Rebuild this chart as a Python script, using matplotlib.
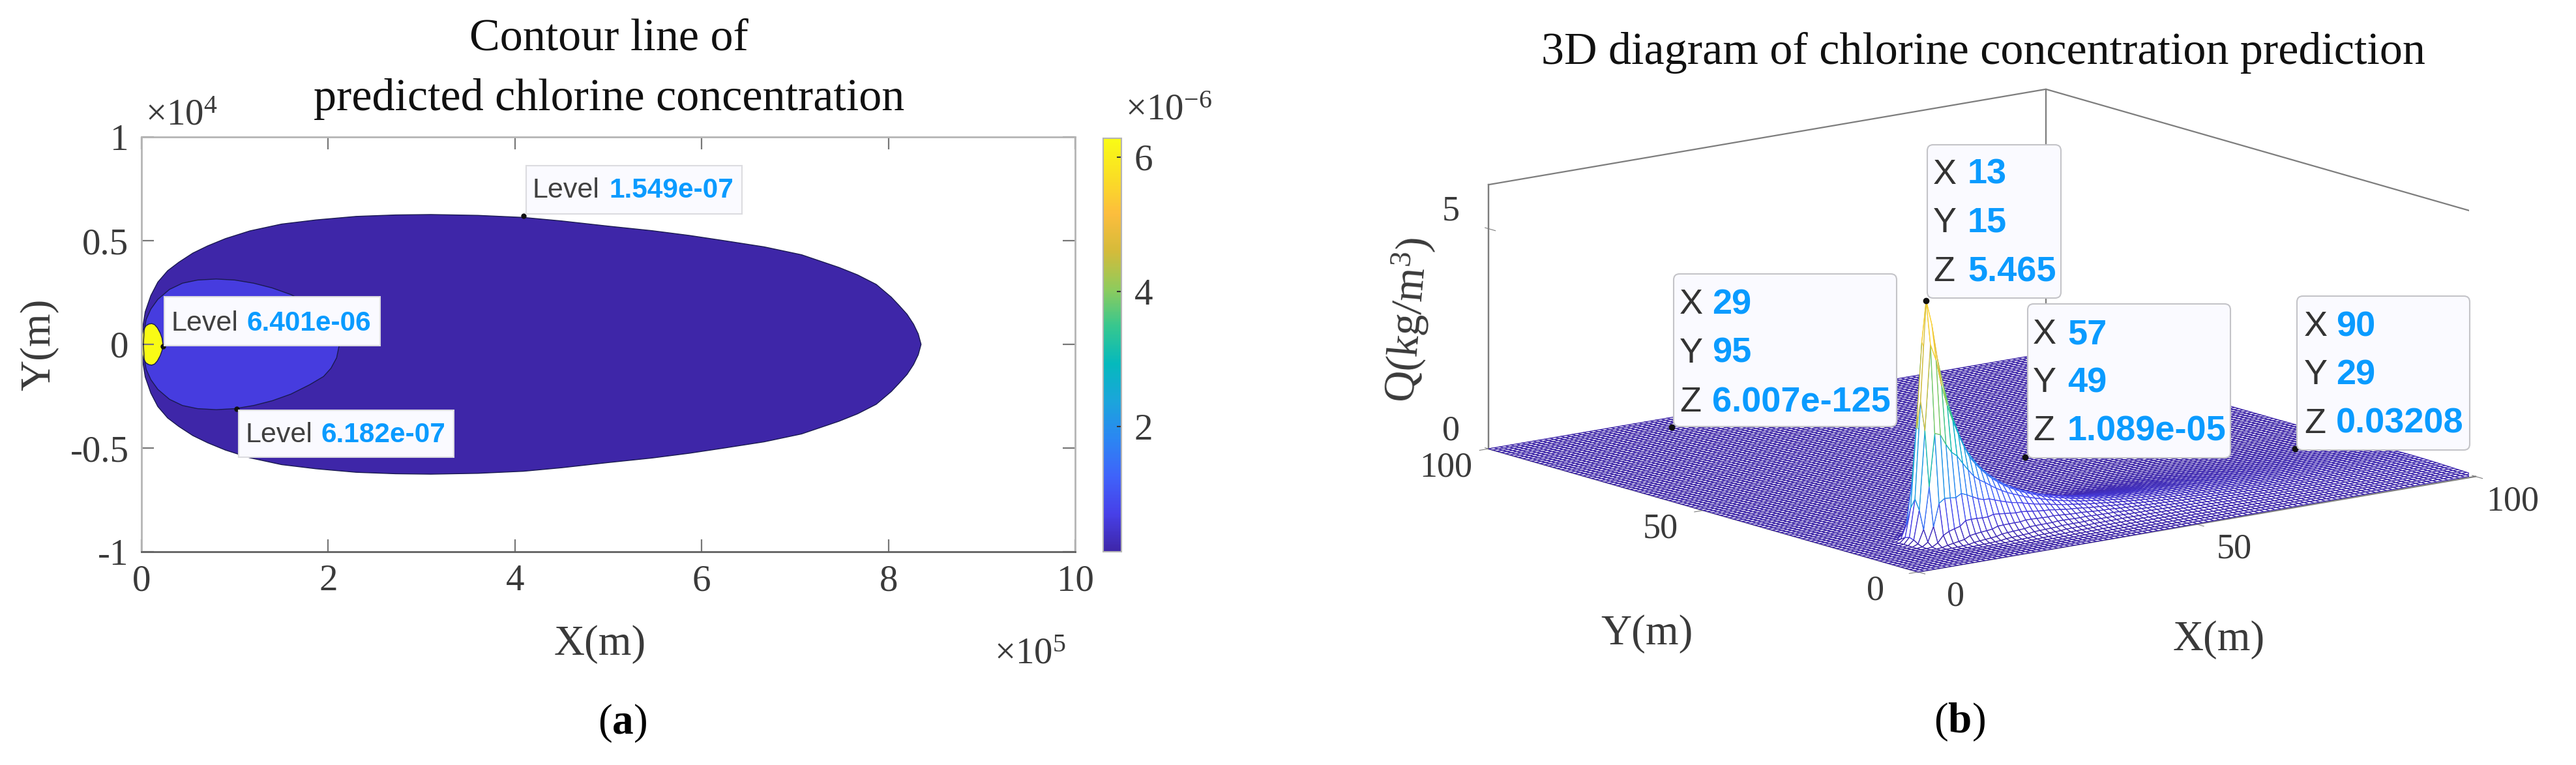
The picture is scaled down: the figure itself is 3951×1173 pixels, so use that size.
import numpy as np
import matplotlib
matplotlib.use('Agg')
import matplotlib.pyplot as plt
from matplotlib.colors import LinearSegmentedColormap, Normalize
from matplotlib.cm import ScalarMappable
from matplotlib.patches import FancyBboxPatch, Rectangle
from mpl_toolkits.mplot3d.art3d import Poly3DCollection
from mpl_toolkits.mplot3d import proj3d

# ---------- data ----------
# panel (a): contour outlines, upper half (x in 1e5 m, y in 1e4 m)
outer_x = [0.00, 0.005, 0.02, 0.04, 0.10, 0.175, 0.28, 0.40, 0.55, 0.71, 0.90, 1.16, 1.50, 1.87, 2.30, 2.72, 3.10, 3.60,
           4.09, 4.50, 5.00, 5.47, 5.87, 6.27, 6.67, 7.07, 7.47, 7.67, 7.87, 8.03, 8.11, 8.20, 8.27, 8.32, 8.35]
outer_y = [0.00, 0.05, 0.10, 0.157, 0.235, 0.30, 0.355, 0.396, 0.44, 0.475, 0.51, 0.547, 0.58, 0.60, 0.617, 0.624, 0.626, 0.622,
           0.612, 0.595, 0.57, 0.548, 0.525, 0.498, 0.470, 0.432, 0.371, 0.335, 0.289, 0.228, 0.19, 0.145, 0.097, 0.05, 0.00]
inner_x = [0.02, 0.03, 0.05, 0.10, 0.175, 0.30, 0.44, 0.60, 0.80, 1.00, 1.20, 1.40, 1.60, 1.80, 1.95, 2.03, 2.09, 2.12]
inner_y = [0.00, 0.07, 0.12, 0.17, 0.217, 0.265, 0.295, 0.31, 0.315, 0.31, 0.295, 0.272, 0.24, 0.195, 0.155, 0.115, 0.065, 0.00]
core_x = [0.00, 0.005, 0.02, 0.05, 0.08, 0.11, 0.14, 0.17, 0.20, 0.22, 0.23]
core_y = [0.00, 0.04, 0.07, 0.09, 0.098, 0.10, 0.095, 0.08, 0.055, 0.03, 0.00]
levels = [1.549e-07, 6.182e-07, 6.401e-06]
level_names = ['1.549e-07', '6.182e-07', '6.401e-06']
level_anchor_x = [4.09, 1.02, 0.23]
level_anchor_y = [0.62, -0.31, -0.01]
a_xticks = [0, 2, 4, 6, 8, 10]
a_yticks = [-1, -0.5, 0, 0.5, 1]
a_yticklabels = ['-1', '-0.5', '0', '0.5', '1']
cbar_ticks = [2e-6, 4e-6, 6e-6]
cbar_ticklabels = ['2', '4', '6']
cbar_low, cbar_high = 0.136e-6, 6.28e-6

# panel (b): height of the ridge at X = 0..100 and lateral spread there
ridge_z = [0, 0, 0, 0, 0, 0, 0, 0, 0, 0.01, 0.15, 1.0, 3.2, 5.465, 4.9, 4.1, 3.5, 3.0, 2.6, 2.25, 1.95,
           1.75, 1.57, 1.42, 1.29, 1.18, 1.08, 0.99, 0.92, 0.85, 0.79, 0.74, 0.69, 0.64, 0.60, 0.56, 0.53,
           0.50, 0.47, 0.44, 0.42, 0.40, 0.38, 0.36, 0.34, 0.325, 0.31, 0.295, 0.28, 0.27, 0.26, 0.25, 0.24,
           0.23, 0.22, 0.21, 0.205, 0.197, 0.19, 0.183, 0.176, 0.17, 0.164, 0.158, 0.153, 0.148, 0.143, 0.138,
           0.134, 0.13, 0.126, 0.122, 0.119, 0.115, 0.112, 0.109, 0.106, 0.103, 0.1, 0.098, 0.096, 0.094,
           0.092, 0.09, 0.088, 0.086, 0.084, 0.083, 0.081, 0.08, 0.0794, 0.078, 0.077, 0.075, 0.074, 0.073,
           0.072, 0.071, 0.07, 0.069, 0.068]
ridge_spread = [1.4, 1.4, 1.4, 1.4, 1.4, 1.4, 1.4, 1.4, 1.4, 1.4, 1.4, 1.4, 1.5, 1.6, 1.7, 1.8, 1.9, 2.1, 2.2, 2.3, 2.4,
                2.5, 2.7, 2.8, 2.9, 3.0, 3.1, 3.3, 3.4, 3.5, 3.6, 3.7, 3.9, 4.0, 4.1, 4.2, 4.3, 4.5, 4.6, 4.7, 4.8,
                4.9, 5.1, 5.2, 5.3, 5.4, 5.5, 5.7, 5.8, 5.9, 6.0, 6.1, 6.3, 6.4, 6.5, 6.6, 6.7, 6.9, 7.0, 7.1, 7.2,
                7.3, 7.5, 7.6, 7.7, 7.8, 7.9, 8.0, 8.1, 8.2, 8.3, 8.4, 8.5, 8.6, 8.7, 8.8, 8.9, 9.0, 9.1, 9.2, 9.3,
                9.4, 9.5, 9.6, 9.7, 9.8, 9.9, 10.0, 10.1, 10.3, 10.4, 10.5, 10.6, 10.7, 10.8, 10.9, 11.0, 11.1, 11.2, 11.3, 11.4]
ridge_y = 15
tip_x = [29, 13, 57, 90]
tip_y = [95, 15, 49, 29]
tip_z_text = ['6.007e-125', '5.465', '1.089e-05', '0.03208']
tip_z = [0.0, 5.465, 0.0, 0.03208]
b_ticks = [0, 50, 100]
z_ticks = [0, 5]

parula_stops = ['#3e26a8', '#4740e8', '#3f63fa', '#2b86f2', '#1ba5db', '#05b9bd', '#36c78f', '#8fcb5c',
                '#d4bb3a', '#fcbd3d', '#fadf24', '#f9fb15']

# ---------- page ----------
W, H = 3951, 1173
plt.rcParams['font.family'] = ['Liberation Serif', 'DejaVu Serif']
plt.rcParams['mathtext.fontset'] = 'custom'
plt.rcParams['mathtext.rm'] = 'Liberation Serif'
plt.rcParams['mathtext.it'] = 'Liberation Serif'
plt.rcParams['mathtext.bf'] = 'Liberation Serif:bold'
fig = plt.figure(figsize=(W / 100, H / 100), dpi=100, facecolor='white')
parula = LinearSegmentedColormap.from_list('parula', parula_stops, N=256)
INK = '#3a3a3a'
BLUE = '#0a9bff'
TICK_FS = 41
LABEL_FS = 47


def box(l, t, r, b):
    return [l / W, 1 - b / H, (r - l) / W, (b - t) / H]


# ---------- panel (a) ----------
ax = fig.add_axes(box(217, 210, 1649, 846))
norm = Normalize(cbar_low, cbar_high)
for lv, xs, ys in zip(levels, (outer_x, inner_x, core_x), (outer_y, inner_y, core_y)):
    xx = np.r_[xs, xs[::-1]]
    yy = np.r_[ys, -np.array(ys[::-1])]
    ax.fill(xx, yy, color=parula(norm(lv)), lw=0)
    ax.plot(xx, yy, color='#1a1a50', lw=1.0)
ax.set_xlim(0, 10)
ax.set_ylim(-1, 1)
ax.set_xticks(a_xticks)
ax.set_yticks(a_yticks, a_yticklabels)
ax.tick_params(direction='in', top=True, right=True, length=14, width=1.6, color='#777777',
               labelsize=TICK_FS, labelcolor=INK, pad=14)
for s in ('top', 'right', 'left'):
    ax.spines[s].set_color('#b5b5b5')
    ax.spines[s].set_linewidth(2)
ax.spines['bottom'].set_color('#606060')
ax.spines['bottom'].set_linewidth(2)
ax.plot(level_anchor_x, level_anchor_y, ls='none', marker='o', ms=5, color='#111111', zorder=6, clip_on=False)

cax = fig.add_axes(box(1692, 212, 1720, 846))
cb = fig.colorbar(ScalarMappable(norm=norm, cmap=parula), cax=cax)
cb.set_ticks(cbar_ticks, labels=cbar_ticklabels)
cb.ax.tick_params(direction='in', length=5, width=1.5, color='#333333', labelsize=TICK_FS, labelcolor=INK, pad=14)
cb.outline.set_edgecolor('#b5b5b5')
cb.outline.set_linewidth(1.5)

# ---------- panel (b) ----------
ax3 = fig.add_axes([0.5, 0.0, 0.4, 1.3], projection='3d', computed_zorder=False)
ax3.set_proj_type('ortho')
ax3.view_init(elev=12.8, azim=-127.7)
ax3.set_box_aspect((1080, 1077, 415), zoom=1.0)
ax3.set_xlim(0, 100, view_margin=0)
ax3.set_ylim(0, 100, view_margin=0)
ax3.set_zlim(0, 6, view_margin=0)
ax3.set_facecolor('none')

gx, gy = np.meshgrid(np.arange(101.0), np.arange(101.0), indexing='ij')
rz = np.array(ridge_z)[:, None]
rs = np.array(ridge_spread)[:, None]
gz = rz * np.exp(-(gy - ridge_y) ** 2 / (2 * rs ** 2))
verts = np.stack([
    np.stack([gx[:-1, :-1], gy[:-1, :-1], gz[:-1, :-1]], -1),
    np.stack([gx[1:, :-1], gy[1:, :-1], gz[1:, :-1]], -1),
    np.stack([gx[1:, 1:], gy[1:, 1:], gz[1:, 1:]], -1),
    np.stack([gx[:-1, 1:], gy[:-1, 1:], gz[:-1, 1:]], -1)], axis=2).reshape(-1, 4, 3)
mesh_colors = parula(np.clip(verts[:, :, 2].mean(axis=1) / 5.465, 0, 1))
mesh = Poly3DCollection(verts, facecolors='white', edgecolors=mesh_colors, linewidths=0.95, zorder=2)
ax3.add_collection3d(mesh)

WALL = '#7d7d7d'
ax3.plot([0, 0], [100, 100], [0, 6], color=WALL, lw=1.6, zorder=1)
ax3.plot([0, 100, 100], [100, 100, 0], [6, 6, 6], color=WALL, lw=1.6, zorder=1)
ax3.plot([100, 100], [100, 100], [0, 6], color=WALL, lw=1.6, zorder=1)
ax3.plot([100, 100], [0, 0], [0, 6], color=WALL, lw=1.6, zorder=1)
ax3.plot(tip_x, tip_y, tip_z, ls='none', marker='o', ms=6, color='#111111', zorder=5)

ax3.set_xticks(b_ticks)
ax3.set_yticks(b_ticks)
ax3.set_zticks(z_ticks)
ax3.grid(False)
for axis, pad in ((ax3.xaxis, 42), (ax3.yaxis, 36), (ax3.zaxis, 14)):
    axis.set_pane_color((1, 1, 1, 0))
    axis.pane.set_edgecolor((1, 1, 1, 0))
    axis.line.set_color(WALL)
    axis.line.set_linewidth(1.6)
    axis.set_tick_params(labelsize=TICK_FS - 2, labelcolor=INK, color=WALL, pad=pad)
ax3.zaxis._axinfo['juggled'] = (1, 2, 0)
ax3.zaxis.set_ticks_position('lower')
for axis, va in ((ax3.xaxis, 'baseline'), (ax3.yaxis, 'baseline'), (ax3.zaxis, 'bottom')):
    for lab in axis.get_ticklabels():
        lab.set_verticalalignment(va)


def project(x, y, z):
    px, py, _ = proj3d.proj_transform(x, y, z, ax3.get_proj())
    dx, dy = ax3.transData.transform((px, py))
    return dx, H - dy


# fit the box to the corners seen in the reference: front (2942,877), right (3797,731)
side, left, bottom = 1600.0, 2300.0, -300.0
for _ in range(5):
    ax3.set_position([left / W, bottom / H, side / W, side / H])
    ax3.apply_aspect()
    fx, fy = project(0, 0, 0)
    rx, ry = project(100, 0, 0)
    side *= (3797 - 2942) / (rx - fx)
    ax3.set_position([left / W, bottom / H, side / W, side / H])
    ax3.apply_aspect()
    fx, fy = project(0, 0, 0)
    left += 2942 - fx
    bottom -= 877 - fy
ax3.set_position([left / W, bottom / H, side / W, side / H])

# ---------- overlay: titles, panel marks, data tips ----------
ov = fig.add_axes([0, 0, 1, 1], facecolor='none', zorder=20)
ov.set_xlim(0, W)
ov.set_ylim(H, 0)
ov.axis('off')
TITLE_INK = '#111111'
TITLE_FS = 50.5
ov.text(934, 60, 'Contour line of', fontsize=TITLE_FS, color=TITLE_INK, ha='center', va='center')
ov.text(934, 152, 'predicted chlorine concentration', fontsize=TITLE_FS, color=TITLE_INK, ha='center', va='center')
ov.text(3042, 81, '3D diagram of chlorine concentration prediction', fontsize=TITLE_FS, color=TITLE_INK, ha='center', va='center')
ov.text(920, 988, 'X(m)', fontsize=LABEL_FS, color=INK, ha='center', va='center')
ov.text(60, 528, 'Y(m)', fontsize=LABEL_FS, color=INK, ha='center', va='center', rotation=90)
ov.text(3403, 981, 'X(m)', fontsize=LABEL_FS, color=INK, ha='center', va='center')
ov.text(2526, 972, 'Y(m)', fontsize=LABEL_FS, color=INK, ha='center', va='center')
ov.text(2160, 490, 'Q(kg/m$^{3}$)', fontsize=LABEL_FS + 1, color=INK, ha='center', va='center', rotation=85)
ov.text(223, 177, r'$\times\mathregular{10^{4}}$', fontsize=TICK_FS, color=INK, ha='left', va='center')
ov.text(1525, 1003, r'$\times\mathregular{10^{5}}$', fontsize=TICK_FS, color=INK, ha='left', va='center')
ov.text(1726, 170, r'$\times\mathregular{10^{-6}}$', fontsize=TICK_FS, color=INK, ha='left', va='center')
ov.text(955, 1109, r'($\mathbf{a}$)', fontsize=47, color='black', ha='center', va='center')
ov.text(3005, 1107, r'($\mathbf{b}$)', fontsize=47, color='black', ha='center', va='center')

SANS = 'Liberation Sans'
TIP_FACE = '#fafaff'


def level_tip(l, t, r, b, name, x1, x2, yc):
    ov.add_patch(Rectangle((l, t), r - l, b - t, fc=TIP_FACE, ec='#dcdce0', lw=1.5, zorder=3))
    ov.text(x1, yc, 'Level', fontsize=31, family=SANS, color='#404040', ha='left', va='center', zorder=4)
    ov.text(x2, yc, name, fontsize=30.5, family=SANS, weight='bold', color=BLUE, ha='left', va='center', zorder=4)


level_tip(807, 254, 1138, 328, level_names[0], 816, 934, 292)
level_tip(366, 629, 696, 701, level_names[1], 376, 492, 667)
level_tip(252, 455, 583, 530, level_names[2], 263, 379, 496)


def xyz_tip(l, t, r, b, xi, rows, x1, x2):
    ov.add_patch(FancyBboxPatch((l + 7, t + 7), r - l - 14, b - t - 14, boxstyle='round,pad=7,rounding_size=9',
                                fc=TIP_FACE, ec='#c4c4c8', lw=1.5, zorder=3, mutation_aspect=1))
    vals = [str(tip_x[xi]), str(tip_y[xi]), tip_z_text[xi]]
    for name, v, yc in zip('XYZ', vals, rows):
        ov.text(x1, yc, name, fontsize=39, family=SANS, color='#333333', ha='left', va='center', zorder=4)
        ov.text(x2, yc, v, fontsize=39, family=SANS, weight='bold', color=BLUE, ha='left', va='center', zorder=4)


xyz_tip(2567, 420, 2909, 654, 0, (467, 542, 617), 2576, 2626)
xyz_tip(2956, 222, 3161, 457, 1, (268, 342, 417), 2965, 3018)
xyz_tip(3110, 466, 3421, 702, 2, (513, 587, 661), 3118, 3171)
xyz_tip(3523, 454, 3788, 690, 3, (501, 575, 650), 3534, 3583)

fig.savefig('out.png', dpi=100)
